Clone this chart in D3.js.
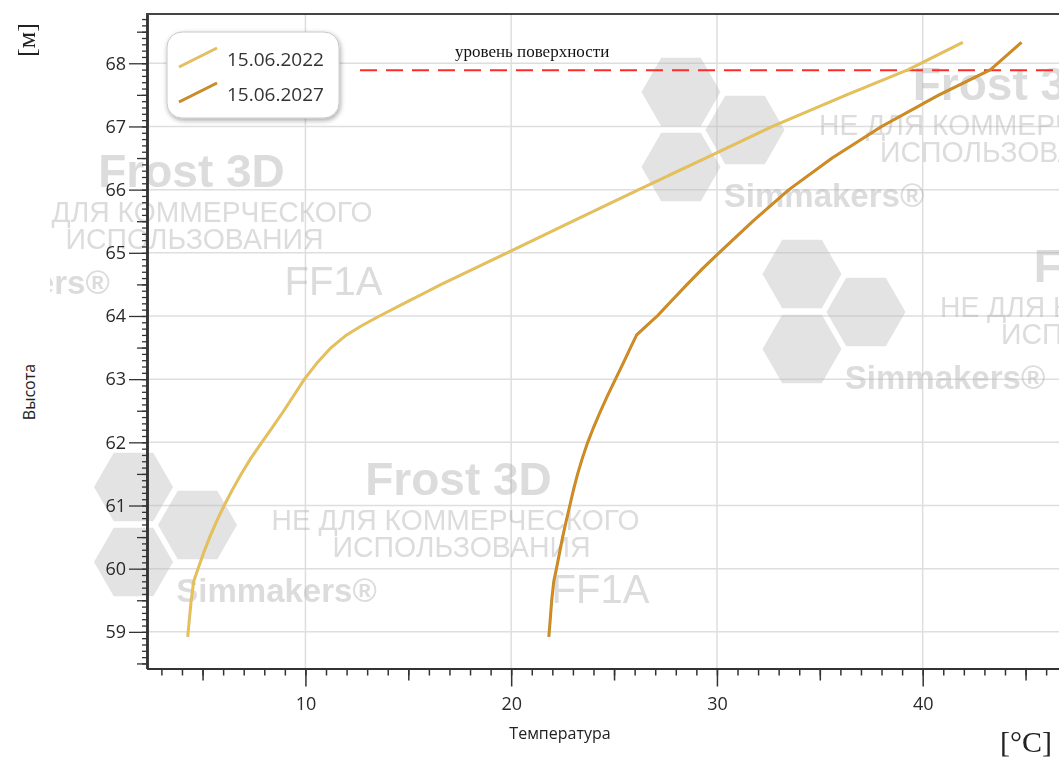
<!DOCTYPE html>
<html>
<head>
<meta charset="utf-8">
<title>Температура по высоте</title>
<script src="https://cdn.jsdelivr.net/npm/d3@7"></script>
<style>
  body { margin: 0; background: #fff; }
  svg { display: block; }
  .tick text { font-family: "Open Sans", sans-serif; font-size: 18px; fill: #2a2a2a; }
  .axis path, .axis line { stroke: #333; }
  .wm text { font-family: "Liberation Sans", Arial, sans-serif; }
</style>
</head>
<body>
<div id="chart"></div>
<script>
// data
var heights  = [58.92, 59.2, 59.5, 59.8, 60, 60.25, 60.5, 60.75, 61, 61.25, 61.5, 61.75, 62, 62.25, 62.5, 62.75,
                63, 63.25, 63.5, 63.7, 63.85, 64, 64.25, 64.5, 64.75, 65, 65.5, 66, 66.5, 67, 67.5, 67.9, 68.33];
var temp2022 = [4.28, 4.36, 4.45, 4.57, 4.78, 5.05, 5.35, 5.68, 6.05, 6.45, 6.88, 7.35, 7.88, 8.42, 8.95, 9.45,
                9.95, 10.55, 11.25, 12.0, 12.75, 13.6, 15.1, 16.6, 18.2, 19.8, 23.0, 26.2, 29.45, 32.7, 36.3, 39.3, 41.95];
var temp2027 = [21.83, 21.9, 21.97, 22.07, 22.2, 22.35, 22.5, 22.67, 22.85, 23.03, 23.23, 23.46, 23.72, 24.02, 24.35, 24.7,
                25.07, 25.44, 25.8, 26.1, 26.6, 27.1, 27.82, 28.55, 29.3, 30.1, 31.75, 33.5, 35.6, 38.0, 40.8, 43.3, 44.8];
var seriesNames = ["15.06.2022", "15.06.2027"];
var xTickValues = [10, 20, 30, 40];
var yTickValues = [59, 60, 61, 62, 63, 64, 65, 66, 67, 68];
var surfaceLevel = 67.89;

var width = 1059, height = 758;
var svg = d3.select("#chart").append("svg")
  .attr("width", width).attr("height", height);

var x = d3.scaleLinear().domain([2.3, 47.5]).range([147, 1077]);
var y = d3.scaleLinear().domain([58.42, 68.78]).range([668.5, 14]);

var defs = svg.append("defs");
defs.append("clipPath").attr("id", "plot")
  .append("rect").attr("x", 147).attr("y", 14).attr("width", 1000).attr("height", 655);
defs.append("clipPath").attr("id", "wmclip")
  .append("rect").attr("x", 50).attr("y", 0).attr("width", 1100).attr("height", 758);
var f = defs.append("filter").attr("id", "shadow").attr("x", "-20%").attr("y", "-20%").attr("width", "140%").attr("height", "150%");
f.append("feDropShadow").attr("dx", 1).attr("dy", 2).attr("stdDeviation", 2.5)
  .attr("flood-color", "#000").attr("flood-opacity", 0.35);

// grid
var grid = svg.append("g");
grid.selectAll(".hg").data(yTickValues).enter().append("line")
  .attr("x1", 147).attr("x2", width)
  .attr("y1", function(d){ return y(d); }).attr("y2", function(d){ return y(d); })
  .attr("stroke", "#dedede").attr("stroke-width", 1.5);
grid.selectAll(".vg").data(xTickValues).enter().append("line")
  .attr("y1", 14).attr("y2", 668)
  .attr("x1", function(d){ return x(d); }).attr("x2", function(d){ return x(d); })
  .attr("stroke", "#dedede").attr("stroke-width", 1.5);

// watermark
var wm = svg.append("g").attr("class", "wm").attr("clip-path", "url(#wmclip)").attr("opacity", 0.4);
var anchors = [[-133.5, 179], [133.5, 487], [681, 92], [802, 274]];
function hex(cx, cy, r) {
  var pts = d3.range(6).map(function(i){
    var a = Math.PI / 3 * i;
    return [cx + r * Math.cos(a), cy + r * Math.sin(a)];
  });
  return "M" + pts.join("L") + "Z";
}
anchors.forEach(function(a){
  var g = wm.append("g").attr("transform", "translate(" + a[0] + "," + a[1] + ")");
  [[0, 0], [0, 75], [64, 38]].forEach(function(c){
    g.append("path").attr("d", hex(c[0], c[1], 39.5)).attr("fill", "#b8b8b8");
  });
  g.append("text").attr("x", 325).attr("y", 8).attr("text-anchor", "middle")
    .attr("font-size", 46).attr("font-weight", "bold").attr("fill", "#a8a8a8").text("Frost 3D");
  g.append("text").attr("x", 322).attr("y", 43).attr("text-anchor", "middle")
    .attr("font-size", 30).attr("textLength", 368).attr("lengthAdjust", "spacingAndGlyphs")
    .attr("fill", "#a8a8a8").text("НЕ ДЛЯ КОММЕРЧЕСКОГО");
  g.append("text").attr("x", 328).attr("y", 70).attr("text-anchor", "middle")
    .attr("font-size", 30).attr("textLength", 258).attr("lengthAdjust", "spacingAndGlyphs")
    .attr("fill", "#a8a8a8").text("ИСПОЛЬЗОВАНИЯ");
  g.append("text").attr("x", 143).attr("y", 115).attr("text-anchor", "middle")
    .attr("font-size", 33).attr("font-weight", "bold").attr("fill", "#a8a8a8").text("Simmakers®");
  g.append("text").attr("x", 467).attr("y", 116).attr("text-anchor", "middle")
    .attr("font-size", 40).attr("fill", "#a8a8a8").text("FF1A");
});

// axes
var yAxis = svg.append("g").attr("class", "axis").attr("transform", "translate(147,0)");
yAxis.call(d3.axisLeft(y).tickValues(d3.range(585, 688).map(function(d){ return d / 10; })).tickSize(5).tickSizeOuter(0).tickFormat(""));
yAxis.append("g").call(d3.axisLeft(y).tickValues(d3.range(58.5, 68.6, 1)).tickSize(10).tickSizeOuter(0).tickFormat(""));
yAxis.append("g").call(d3.axisLeft(y).tickValues(yTickValues).tickSize(18).tickSizeOuter(0).tickPadding(3).tickFormat(d3.format("d")));
yAxis.selectAll("path").attr("stroke-width", 2.2);
yAxis.selectAll("line").attr("stroke-width", 1.3);

var xAxis = svg.append("g").attr("class", "axis").attr("transform", "translate(0,668.5)");
xAxis.call(d3.axisBottom(x).tickValues(d3.range(3, 48)).tickSize(7).tickSizeOuter(0).tickFormat(""));
xAxis.append("g").call(d3.axisBottom(x).tickValues([5, 15, 25, 35, 45]).tickSize(12).tickSizeOuter(0).tickFormat(""));
xAxis.append("g").call(d3.axisBottom(x).tickValues(xTickValues).tickSize(18).tickSizeOuter(0).tickPadding(11).tickFormat(d3.format("d")));
xAxis.selectAll("path").attr("stroke-width", 2.2);
xAxis.selectAll("line").attr("stroke-width", 1.5);

// top frame
svg.append("line").attr("x1", 146).attr("x2", width).attr("y1", 14).attr("y2", 14)
  .attr("stroke", "#444").attr("stroke-width", 2.2);

// surface level
svg.append("line").attr("x1", 360).attr("x2", width)
  .attr("y1", y(surfaceLevel)).attr("y2", y(surfaceLevel))
  .attr("stroke", "#ff2b2b").attr("stroke-width", 2).attr("stroke-dasharray", "17,9");
svg.append("text").attr("x", 455).attr("y", 57)
  .attr("font-family", "'Liberation Serif', 'Times New Roman', serif").attr("font-size", 17)
  .attr("fill", "#111").text("уровень поверхности");

// curves
var line = d3.line()
  .x(function(d){ return x(d[0]); })
  .y(function(d){ return y(d[1]); });
var series = [
  { name: seriesNames[0], values: d3.zip(temp2022, heights), outer: "#d9bd72", inner: "#f2c33a" },
  { name: seriesNames[1], values: d3.zip(temp2027, heights), outer: "#b98a32", inner: "#e88a0c" }
];
var curves = svg.append("g").attr("clip-path", "url(#plot)");
series.forEach(function(s){
  curves.append("path").datum(s.values).attr("d", line)
    .attr("fill", "none").attr("stroke", s.outer).attr("stroke-width", 3).attr("stroke-linejoin", "round");
  curves.append("path").datum(s.values).attr("d", line)
    .attr("fill", "none").attr("stroke", s.inner).attr("stroke-width", 1.1).attr("stroke-linejoin", "round");
});

// legend
var lg = svg.append("g");
lg.append("rect").attr("x", 167).attr("y", 32).attr("width", 172).attr("height", 86)
  .attr("rx", 15).attr("fill", "#fff").attr("stroke", "#c8c8c8").attr("stroke-width", 1)
  .attr("filter", "url(#shadow)");
series.forEach(function(s, i){
  var yy = 58 + i * 35;
  lg.append("line").attr("x1", 179).attr("y1", yy + 9).attr("x2", 217).attr("y2", yy - 10)
    .attr("stroke", s.outer).attr("stroke-width", 3);
  lg.append("line").attr("x1", 179).attr("y1", yy + 9).attr("x2", 217).attr("y2", yy - 10)
    .attr("stroke", s.inner).attr("stroke-width", 1);
  lg.append("text").attr("x", 227).attr("y", yy + 8)
    .attr("font-family", "'Open Sans', sans-serif").attr("font-size", 19).attr("fill", "#333")
    .text(s.name);
});

// axis titles
svg.append("text").attr("x", 560).attr("y", 739).attr("text-anchor", "middle")
  .attr("font-family", "'Open Sans', sans-serif").attr("font-size", 16).attr("fill", "#222")
  .text("Температура");
svg.append("text").attr("transform", "translate(35,392) rotate(-90)").attr("text-anchor", "middle")
  .attr("font-family", "'Open Sans', sans-serif").attr("font-size", 16).attr("fill", "#222")
  .text("Высота");
svg.append("text").attr("transform", "translate(35,40) rotate(-90)").attr("text-anchor", "middle")
  .attr("font-family", "'Liberation Serif', serif").attr("font-size", 26).attr("fill", "#222")
  .text("[м]");
svg.append("text").attr("x", 1000).attr("y", 752)
  .attr("font-family", "'Liberation Serif', serif").attr("font-size", 30).attr("fill", "#222")
  .text("[°C]");
</script>
</body>
</html>
